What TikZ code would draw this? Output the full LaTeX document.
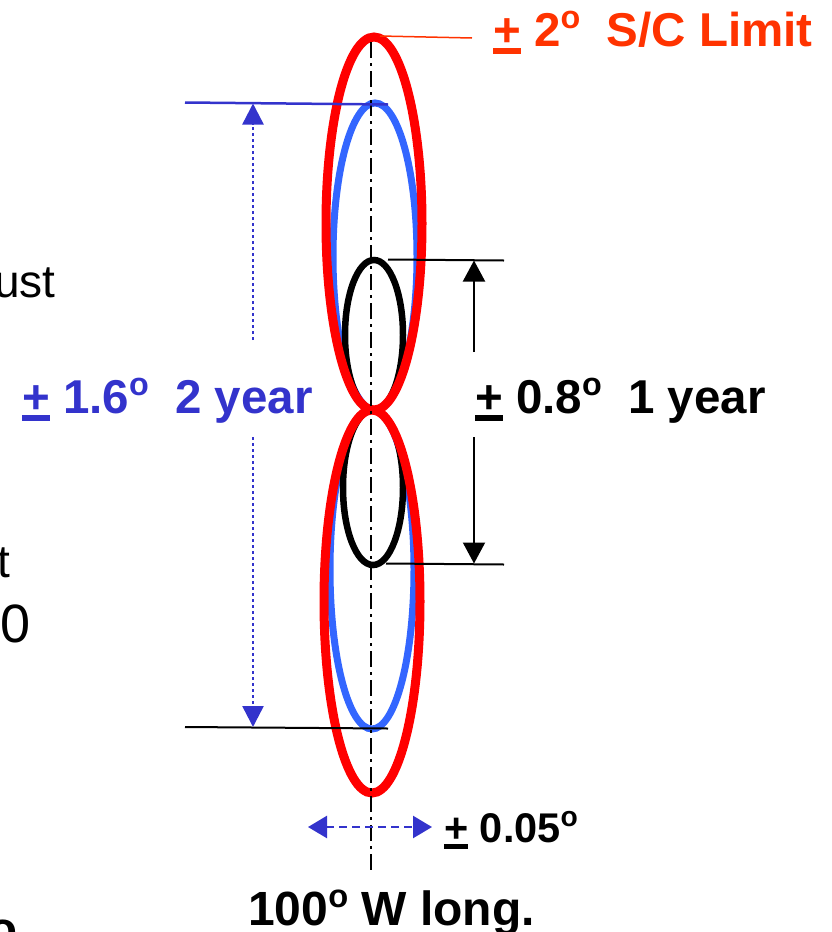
\documentclass[tikz,border=0pt]{standalone}
\usepackage{fontspec}
\usepackage{graphicx}
\setmainfont{Liberation Sans}
\usetikzlibrary{arrows.meta}
\definecolor{limred}{HTML}{FF3300}
\definecolor{ered}{HTML}{FF0000}
\definecolor{eblue}{HTML}{3366FF}
\definecolor{tblue}{HTML}{3333CC}
\newcommand{\pmu}{{\setbox0\hbox{+}\rlap{\rule[-0.17em]{\wd0}{0.12em}}\box0}}
\newcommand{\supo}{\raisebox{0.37em}{\scalebox{0.68}{o}}}
\begin{document}
\begin{tikzpicture}[x=1pt,y=-1pt,
  lbl/.style={inner sep=0pt,anchor=base west,font=\fontsize{47.5}{50}\selectfont\bfseries},
  frag/.style={inner sep=0pt,anchor=base west,font=\fontsize{46}{50}\selectfont},
  axisline/.style={black,line width=2.2pt,dash pattern=on 16pt off 5pt on 3pt off 5pt},
  redlobe/.style={ered,line width=9pt},
  bluelobe/.style={eblue,line width=7pt},
  blacklobe/.style={black,line width=6.5pt},
  bluedim/.style={tblue,line width=2.5pt},
  bluedot/.style={tblue,line width=2.5pt,dash pattern=on 3pt off 3pt,-{Triangle[width=21pt,length=21pt]}},
  blackdim/.style={black,line width=2pt},
  blackarr/.style={black,line width=2pt,-{Triangle[width=22pt,length=21pt]}},
  bluedash/.style={tblue,line width=2.5pt,dash pattern=on 8pt off 5pt,{Triangle[width=22pt,length=19pt]}-{Triangle[width=22pt,length=19pt]}}
]
\path[use as bounding box] (0,0) rectangle (831,932);
\clip (0,0) rectangle (831,932);

% left cut-off text fragments
\node[frag] (fragust) at (-6,297) {ust};
\node[frag] (fragt) at (-3,577) {t};
\node[frag,font=\fontsize{54}{58}\selectfont] (fragzero) at (0,642) {0};
\node[lbl] (frago) at (-12,945) {o};

% lobes
\draw[bluelobe] (375,256.5) ellipse [x radius=42pt, y radius=153.5pt];
\draw[bluelobe] (372,569.5) ellipse [x radius=42pt, y radius=159.5pt];
\draw[blacklobe] (374,335) ellipse [x radius=29pt, y radius=75pt];
\draw[blacklobe] (373,487.5) ellipse [x radius=30pt, y radius=77.5pt];
\draw[redlobe] (374,223.5) ellipse [x radius=48pt, y radius=186.5pt];
\draw[redlobe] (372,601.5) ellipse [x radius=48pt, y radius=191.5pt];

% axis
\coordinate (axtop) at (371,42);
\coordinate (axbot) at (371,870);
\draw[axisline] (axtop) -- (axbot);

% S/C limit label
\coordinate (redtop) at (380,36);
\coordinate (leadend) at (472,38);
\draw[limred,line width=1.5pt] (redtop) -- (leadend);
\node[lbl,text=limred] (limit) at (493,46) {\pmu{} 2\supo{}\ \ S/C Limit};

% blue dimension (2 year)
\coordinate (btopL) at (185,102.5);
\coordinate (btopR) at (388,104.5);
\coordinate (bbotL) at (185,727);
\coordinate (bbotR) at (388,728.5);
\coordinate (btip) at (253,103.5);
\coordinate (bbtip) at (253,727);
\coordinate (bupstart) at (253,340);
\coordinate (bdnstart) at (253,437);
\draw[bluedim] (btopL) -- (btopR);
\draw[blackdim] (bbotL) -- (bbotR);
\draw[bluedot] (bupstart) -- (btip);
\draw[bluedot] (bdnstart) -- (bbtip);
\node[lbl,text=tblue] (twoyear) at (22,413) {\pmu{} 1.6\supo{}\ \ 2 year};

% black dimension (1 year)
\coordinate (ktopL) at (388,259.5);
\coordinate (ktopR) at (504,260.5);
\coordinate (kbotL) at (386,563.5);
\coordinate (kbotR) at (504,564.5);
\coordinate (ktip) at (474,260.5);
\coordinate (kbtip) at (474,563.5);
\coordinate (kupstart) at (474,352);
\coordinate (kdnstart) at (474,437);
\draw[blackdim] (ktopL) -- (ktopR);
\draw[blackdim] (kbotL) -- (kbotR);
\draw[blackarr] (kupstart) -- (ktip);
\draw[blackarr] (kdnstart) -- (kbtip);
\node[lbl] (oneyear) at (475,413) {\pmu{} 0.8\supo{}\ \ 1 year};

% bottom
\coordinate (dl) at (308,827);
\coordinate (dr) at (432,827);
\draw[bluedash] (dl) -- (dr);
\node[lbl,font=\fontsize{41.5}{45}\selectfont\bfseries] (tol) at (444,842) {\pmu{} 0.05\supo};
\node[lbl,font=\fontsize{48}{51}\selectfont\bfseries] (longi) at (248,925) {100\supo{} W long.};
\end{tikzpicture}
\end{document}
